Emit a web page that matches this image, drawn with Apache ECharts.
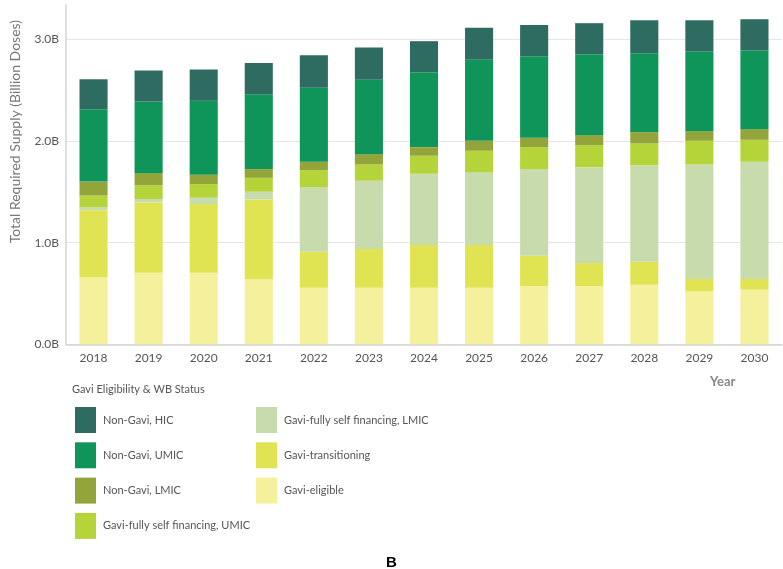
<!DOCTYPE html>
<html>
<head>
<meta charset="utf-8">
<script src="https://cdn.jsdelivr.net/npm/echarts@6/dist/echarts.min.js"></script>
<style>html,body{margin:0;padding:0;background:#fff;}#c{width:783px;height:569px;}</style>
</head>
<body>
<div id="c"></div>
<script>
const years = ['2018','2019','2020','2021','2022','2023','2024','2025','2026','2027','2028','2029','2030'];
const yTicks = [0, 1, 2, 3];
const gaviEligible = [0.66, 0.705, 0.705, 0.643, 0.557, 0.557, 0.557, 0.557, 0.570, 0.570, 0.587, 0.521, 0.538];
const gaviTransitioning = [0.66, 0.692, 0.675, 0.783, 0.354, 0.381, 0.42, 0.42, 0.302, 0.23, 0.226, 0.122, 0.105];
const gaviSelfLMIC = [0.03, 0.033, 0.063, 0.076, 0.637, 0.672, 0.702, 0.718, 0.853, 0.944, 0.948, 1.127, 1.154];
const gaviSelfUMIC = [0.115, 0.134, 0.134, 0.137, 0.167, 0.16, 0.177, 0.21, 0.216, 0.217, 0.216, 0.233, 0.216];
const nonGaviLMIC = [0.137, 0.121, 0.092, 0.086, 0.082, 0.102, 0.085, 0.098, 0.092, 0.098, 0.112, 0.095, 0.105];
const nonGaviUMIC = [0.712, 0.705, 0.728, 0.737, 0.728, 0.731, 0.738, 0.797, 0.803, 0.797, 0.777, 0.784, 0.774];
const nonGaviHIC = [0.295, 0.305, 0.308, 0.308, 0.321, 0.318, 0.305, 0.315, 0.308, 0.305, 0.324, 0.308, 0.308];

const seriesDefs = [
  {name: 'Gavi-eligible', data: gaviEligible, color: '#f5f09b'},
  {name: 'Gavi-transitioning', data: gaviTransitioning, color: '#e1e452'},
  {name: 'Gavi-fully self financing, LMIC', data: gaviSelfLMIC, color: '#c8dbad'},
  {name: 'Gavi-fully self financing, UMIC', data: gaviSelfUMIC, color: '#b5d43a'},
  {name: 'Non-Gavi, LMIC', data: nonGaviLMIC, color: '#93a53a'},
  {name: 'Non-Gavi, UMIC', data: nonGaviUMIC, color: '#0f9459'},
  {name: 'Non-Gavi, HIC', data: nonGaviHIC, color: '#2e6b60'}
];

const FONT = 'Lato';
const chart = echarts.init(document.getElementById('c'), null, {renderer: 'canvas'});
const legendCommon = {
  orient: 'vertical', padding: 0, itemWidth: 21, itemHeight: 26, itemGap: 9.3,
  icon: 'rect', selectedMode: false,
  textStyle: {fontFamily: FONT, fontSize: 11, color: '#555', padding: [0, 0, 0, 2]}
};
chart.setOption({
  animation: false,
  textStyle: {fontFamily: FONT},
  title: [
    {text: 'B', left: 'center', top: 555, padding: 0,
     textStyle: {fontFamily: 'Liberation Sans', fontSize: 15, fontWeight: 'bold', color: '#000'}},
    {text: 'Gavi Eligibility & WB Status', left: 72, top: 384, padding: 0,
     textStyle: {fontFamily: FONT, fontSize: 11, fontWeight: 'normal', color: '#555'}}
  ],
  legend: [
    Object.assign({left: 75, top: 407, data: ['Non-Gavi, HIC', 'Non-Gavi, UMIC', 'Non-Gavi, LMIC', 'Gavi-fully self financing, UMIC']}, legendCommon),
    Object.assign({left: 256, top: 407, data: ['Gavi-fully self financing, LMIC', 'Gavi-transitioning', 'Gavi-eligible']}, legendCommon)
  ],
  grid: {left: 52, right: 1, top: 5, bottom: 224.7},
  xAxis: {
    type: 'category', data: years,
    axisLine: {show: true, lineStyle: {color: '#d5d5d5', width: 1.5}},
    axisTick: {show: false},
    axisLabel: {fontFamily: FONT, fontSize: 12, color: '#555', margin: 8},
    name: 'Year', nameLocation: 'end', nameGap: -72,
    nameTextStyle: {fontFamily: FONT, fontSize: 13, fontWeight: 'bold', color: '#888', verticalAlign: 'top', padding: [31, 0, 0, 0]}
  },
  yAxis: {
    type: 'value', min: 0, max: 3.34, interval: 1,
    axisLine: {show: true, lineStyle: {color: '#d5d5d5', width: 1.5}},
    axisTick: {show: false},
    axisLabel: {fontFamily: FONT, fontSize: 12, color: '#555', margin: 7, showMaxLabel: false,
      formatter: v => (yTicks.indexOf(v) >= 0 ? v.toFixed(1) + 'B' : '')},
    splitLine: {show: true, lineStyle: {color: ['#e6e6e6', '#e6e6e6', '#e6e6e6', '#e6e6e6', 'rgba(0,0,0,0)'], width: 1.2}},
    name: 'Total Required Supply (Billion Doses)', nameLocation: 'middle', nameGap: 44,
    nameTextStyle: {fontFamily: FONT, fontSize: 14, color: '#777', padding: [0, 0, 0, 86]}
  },
  series: seriesDefs.map(s => ({
    name: s.name, type: 'bar', stack: 'total', data: s.data, barWidth: '51%',
    itemStyle: {color: s.color}
  }))
});
</script>
</body>
</html>
